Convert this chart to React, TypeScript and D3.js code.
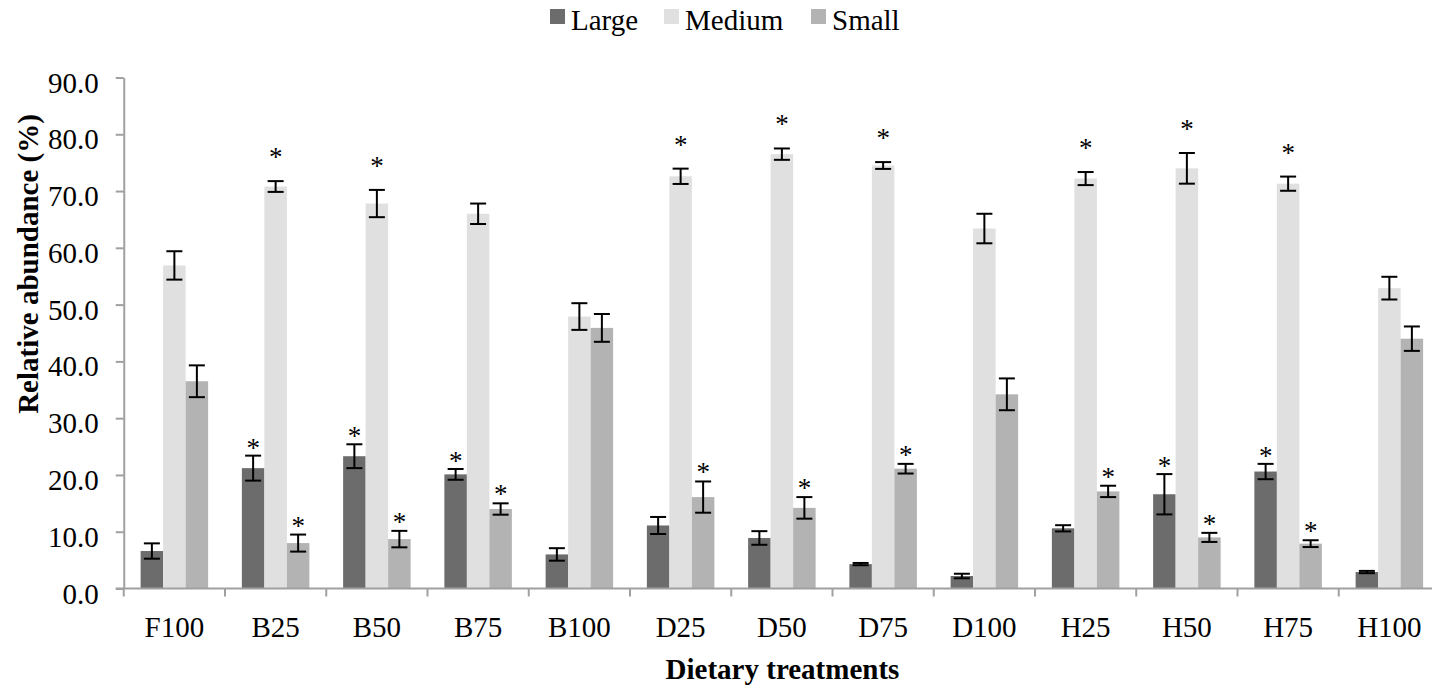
import React, { useEffect, useRef } from "react";
import * as d3 from "d3";

// values (mean and error per size class)
const categories = ["F100", "B25", "B50", "B75", "B100", "D25", "D50", "D75", "D100", "H25", "H50", "H75", "H100"];
const series = ["Large", "Medium", "Small"];

const large = [6.6, 21.2, 23.3, 20.1, 6.0, 11.1, 8.9, 4.3, 2.2, 10.6, 16.6, 20.6, 2.9];
const largeErr = [1.35, 2.2, 2.1, 0.95, 1.1, 1.5, 1.2, 0.2, 0.4, 0.55, 3.55, 1.35, 0.2];
const largeSig = [false, true, true, true, false, false, false, false, false, false, true, true, false];

const medium = [56.9, 70.8, 67.8, 66.0, 47.9, 72.6, 76.5, 74.5, 63.4, 72.2, 74.0, 71.3, 52.9];
const mediumErr = [2.5, 0.95, 2.4, 1.8, 2.35, 1.35, 1.0, 0.6, 2.6, 1.15, 2.7, 1.25, 2.0];
const mediumSig = [false, true, true, false, false, true, true, true, false, true, true, true, false];

const small = [36.5, 8.0, 8.7, 14.0, 45.9, 16.1, 14.2, 21.1, 34.2, 17.1, 9.0, 7.9, 44.0];
const smallErr = [2.8, 1.5, 1.45, 1.0, 2.45, 2.75, 1.9, 0.85, 2.8, 1.0, 0.8, 0.6, 2.15];
const smallSig = [false, true, true, true, false, true, true, true, false, true, true, true, false];

const yTicks = [0, 10, 20, 30, 40, 50, 60, 70, 80, 90];

const colors: Record<string, string> = { Large: "#6c6c6c", Medium: "#e0e0e0", Small: "#b3b3b3" };
const starGap: Record<string, number> = { Large: 12, Medium: 28, Small: 13 };

const FONT = "'Liberation Serif', 'Times New Roman', serif";
const W = 1432;
const H = 688;

export default function App() {
  const ref = useRef<SVGSVGElement>(null);

  useEffect(() => {
    const svg = d3.select(ref.current);
    svg.selectAll("*").remove();

    const left = 123.75;
    const right = 1440;
    const top = 77.5;
    const bottom = 588.5;

    const rows = categories.map((c, i) => ({
      cat: c,
      items: [
        { key: "Large", v: large[i], e: largeErr[i], s: largeSig[i] },
        { key: "Medium", v: medium[i], e: mediumErr[i], s: mediumSig[i] },
        { key: "Small", v: small[i], e: smallErr[i], s: smallSig[i] },
      ],
    }));

    const x = d3.scaleBand<string>().domain(categories).range([left, right]).paddingInner(1 / 3).paddingOuter(1 / 6);
    const xs = d3.scaleBand<string>().domain(series).range([0, x.bandwidth()]);
    const y = d3.scaleLinear().domain([0, 90]).range([bottom, top]);

    const axisColor = "#a0a0a0";

    // y axis
    const gy = svg
      .append("g")
      .attr("transform", `translate(${left},0)`)
      .call(d3.axisLeft(y).tickValues(yTicks).tickFormat(d3.format(".1f")).tickSize(8).tickSizeOuter(0).tickPadding(17));
    gy.select(".domain").attr("stroke", axisColor).attr("stroke-width", 2);
    gy.selectAll(".tick line").attr("stroke", axisColor).attr("stroke-width", 2);
    gy.selectAll(".tick text")
      .attr("fill", "#000")
      .attr("dy", "0.5em")
      .style("font-family", FONT)
      .style("font-size", "29px");

    // bars
    const groups = svg
      .selectAll(".grp")
      .data(rows)
      .enter()
      .append("g")
      .attr("class", "grp")
      .attr("transform", (d) => `translate(${x(d.cat)},0)`);

    groups
      .selectAll("rect")
      .data((d) => d.items)
      .enter()
      .append("rect")
      .attr("x", (d) => xs(d.key)!)
      .attr("width", xs.bandwidth())
      .attr("y", (d) => y(d.v))
      .attr("height", (d) => y(0) - y(d.v))
      .attr("fill", (d) => colors[d.key]);

    // error bars
    const cap = 8;
    const err = groups
      .selectAll(".err")
      .data((d) => d.items)
      .enter()
      .append("g")
      .attr("class", "err")
      .attr("stroke", "#000")
      .attr("stroke-width", 2);
    err
      .append("line")
      .attr("x1", (d) => xs(d.key)! + xs.bandwidth() / 2)
      .attr("x2", (d) => xs(d.key)! + xs.bandwidth() / 2)
      .attr("y1", (d) => y(d.v + d.e))
      .attr("y2", (d) => y(d.v - d.e));
    err
      .append("line")
      .attr("x1", (d) => xs(d.key)! + xs.bandwidth() / 2 - cap)
      .attr("x2", (d) => xs(d.key)! + xs.bandwidth() / 2 + cap)
      .attr("y1", (d) => y(d.v + d.e))
      .attr("y2", (d) => y(d.v + d.e));
    err
      .append("line")
      .attr("x1", (d) => xs(d.key)! + xs.bandwidth() / 2 - cap)
      .attr("x2", (d) => xs(d.key)! + xs.bandwidth() / 2 + cap)
      .attr("y1", (d) => y(d.v - d.e))
      .attr("y2", (d) => y(d.v - d.e));

    // significance stars
    groups
      .selectAll(".star")
      .data((d) => d.items.filter((it) => it.s))
      .enter()
      .append("text")
      .attr("class", "star")
      .attr("x", (d) => xs(d.key)! + xs.bandwidth() / 2)
      .attr("y", (d) => y(d.v + d.e) - starGap[d.key] + 13)
      .attr("text-anchor", "middle")
      .style("font-family", FONT)
      .style("font-size", "27px")
      .text("*");

    // x axis
    svg
      .append("line")
      .attr("x1", left - 8)
      .attr("x2", right)
      .attr("y1", bottom)
      .attr("y2", bottom)
      .attr("stroke", axisColor)
      .attr("stroke-width", 2);
    const bounds = categories.map((c) => x(c)! - (x.step() - x.bandwidth()) / 2).concat([right]);
    svg
      .selectAll(".xtick")
      .data(bounds)
      .enter()
      .append("line")
      .attr("x1", (d) => d)
      .attr("x2", (d) => d)
      .attr("y1", bottom)
      .attr("y2", bottom + 8)
      .attr("stroke", axisColor)
      .attr("stroke-width", 2);
    svg
      .selectAll(".xlab")
      .data(categories)
      .enter()
      .append("text")
      .attr("x", (d) => x(d)! + x.bandwidth() / 2)
      .attr("y", 637)
      .attr("text-anchor", "middle")
      .style("font-family", FONT)
      .style("font-size", "29px")
      .text((d) => d);

    // axis titles
    svg
      .append("text")
      .attr("x", 782.5)
      .attr("y", 679)
      .attr("text-anchor", "middle")
      .style("font-family", FONT)
      .style("font-size", "29px")
      .style("font-weight", "bold")
      .text("Dietary treatments");
    svg
      .append("text")
      .attr("transform", "translate(38,264) rotate(-90)")
      .attr("text-anchor", "middle")
      .style("font-family", FONT)
      .style("font-size", "29px")
      .style("font-weight", "bold")
      .text("Relative abundance (%)");

    // legend
    const legX = [550, 664, 811];
    const leg = svg
      .selectAll(".leg")
      .data(series)
      .enter()
      .append("g")
      .attr("class", "leg")
      .attr("transform", (d, i) => `translate(${legX[i]},9)`);
    leg.append("rect").attr("width", 15).attr("height", 15).attr("fill", (d) => colors[d]);
    leg
      .append("text")
      .attr("x", 21)
      .attr("y", 21)
      .style("font-family", FONT)
      .style("font-size", "29px")
      .text((d) => d);
  }, []);

  return (
    <svg
      ref={ref}
      width={W}
      height={H}
      style={{ position: "absolute", left: 0, top: 0, background: "#fff" }}
    />
  );
}
